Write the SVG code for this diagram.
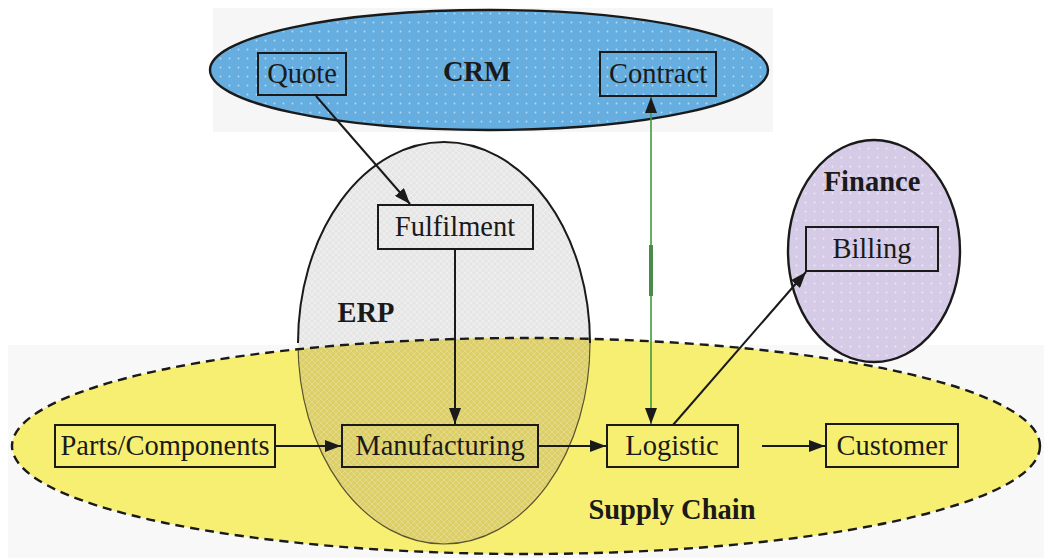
<svg xmlns="http://www.w3.org/2000/svg" width="1044" height="558" viewBox="0 0 1044 558">
  <style>
    .box { fill: none; stroke: #1a1a1a; stroke-width: 2; }
    .lbl { font-family: "Liberation Serif", "Times New Roman", serif; font-size: 28.5px; fill: #1a1a1a; text-anchor: middle; }
    .ttl { font-family: "Liberation Serif", "Times New Roman", serif; font-size: 28.5px; font-weight: bold; fill: #1a1a1a; text-anchor: middle; }
    .edge { fill: none; stroke: #1a1a1a; stroke-width: 2; }
    .edge-green { fill: none; stroke: #3f9a3f; stroke-width: 1.6; }
  </style>
  <defs>
    <marker id="arrow" viewBox="0 0 16 12" refX="16" refY="6" markerWidth="16" markerHeight="12" markerUnits="userSpaceOnUse" orient="auto-start-reverse">
      <path d="M0,0 L16,6 L0,12 Z" fill="#1a1a1a"/>
    </marker>
    <pattern id="dots" width="9" height="9" patternUnits="userSpaceOnUse">
      <circle cx="4.5" cy="4.5" r="0.9" fill="#ffffff" fill-opacity="0.55"/>
    </pattern>
    <pattern id="hatch" width="6" height="6" patternUnits="userSpaceOnUse">
      <path d="M0,6 L6,0 M0,0 L6,6" stroke="#ffffff" stroke-width="0.8" stroke-opacity="0.45"/>
    </pattern>
    <clipPath id="supplyClip">
      <ellipse cx="526" cy="446" rx="514" ry="108"/>
    </clipPath>
  </defs>

  <rect width="1044" height="558" fill="#ffffff"/>
  <!-- faint paper tone behind the upper and lower areas -->
  <rect x="213" y="8" width="560" height="124" fill="#f6f6f6"/>
  <rect x="8" y="345" width="1036" height="213" fill="#f8f8f8"/>

  <!-- ERP domain -->
  <g id="erp">
    <ellipse cx="444" cy="343" rx="146" ry="201" fill="#e6e6e6"/>
    <ellipse cx="444" cy="343" rx="146" ry="201" fill="url(#hatch)"/>
  </g>

  <!-- Supply Chain domain -->
  <g id="supply-chain">
    <ellipse cx="526" cy="446" rx="514" ry="108" fill="#f7ef72"/>
    <g clip-path="url(#supplyClip)">
      <ellipse cx="444" cy="343" rx="146" ry="201" fill="#dccf68"/>
      <ellipse cx="444" cy="343" rx="146" ry="201" fill="url(#hatch)" opacity="0.6"/>
      <ellipse cx="444" cy="343" rx="146" ry="201" fill="none" stroke="#5a5430" stroke-width="1.2"/>
    </g>
    <ellipse cx="526" cy="446" rx="514" ry="108" fill="none" stroke="#1a1a1a" stroke-width="2.4" stroke-dasharray="9 6"/>
    <text class="ttl" x="672" y="519">Supply Chain</text>
  </g>

  <!-- ERP outline above the supply chain band -->
  <g id="erp-outline">
    <path d="M298,343 A146,201 0 0 1 590,343" fill="none" stroke="#1a1a1a" stroke-width="2"/>
    <text class="ttl" x="366" y="322">ERP</text>
  </g>

  <!-- CRM domain -->
  <g id="crm">
    <ellipse cx="489" cy="70" rx="279" ry="60" fill="#66aee0" stroke="#1a1a1a" stroke-width="2.4"/>
    <ellipse cx="489" cy="70" rx="277" ry="58" fill="url(#dots)"/>
    <text class="ttl" x="477" y="81">CRM</text>
  </g>

  <!-- Finance domain -->
  <g id="finance">
    <ellipse cx="874" cy="251" rx="86" ry="111" fill="#d6cbe6" stroke="#1a1a1a" stroke-width="2.4"/>
    <ellipse cx="874" cy="251" rx="84" ry="109" fill="url(#dots)"/>
    <text class="ttl" x="872" y="191">Finance</text>
  </g>

  <!-- Process nodes -->
  <g id="quote">
    <rect class="box" x="258" y="53" width="88" height="42"/>
    <text class="lbl" x="302" y="83">Quote</text>
  </g>
  <g id="contract">
    <rect class="box" x="600" y="52" width="116" height="44"/>
    <text class="lbl" x="658" y="83">Contract</text>
  </g>
  <g id="fulfilment">
    <rect class="box" x="378" y="205" width="155" height="44"/>
    <text class="lbl" x="455" y="236">Fulfilment</text>
  </g>
  <g id="billing">
    <rect class="box" x="806" y="227" width="132" height="44"/>
    <text class="lbl" x="872" y="258">Billing</text>
  </g>
  <g id="parts">
    <rect class="box" x="55" y="425" width="220" height="42"/>
    <text class="lbl" x="165" y="455">Parts/Components</text>
  </g>
  <g id="manufacturing">
    <rect class="box" x="342" y="425" width="196" height="42"/>
    <text class="lbl" x="440" y="455">Manufacturing</text>
  </g>
  <g id="logistic">
    <rect class="box" x="607" y="425" width="131" height="42"/>
    <text class="lbl" x="672" y="455">Logistic</text>
  </g>
  <g id="customer">
    <rect class="box" x="826" y="424" width="132" height="43"/>
    <text class="lbl" x="892" y="455">Customer</text>
  </g>

  <!-- Connectors -->
  <g id="connectors">
    <line class="edge" x1="316" y1="96" x2="410" y2="204" marker-end="url(#arrow)"/>
    <line class="edge" x1="455" y1="249" x2="455" y2="424" marker-end="url(#arrow)"/>
    <line class="edge" x1="275" y1="446" x2="341" y2="446" marker-end="url(#arrow)"/>
    <line class="edge" x1="538" y1="446" x2="606" y2="446" marker-end="url(#arrow)"/>
    <line class="edge" x1="762" y1="446" x2="825" y2="446" marker-end="url(#arrow)"/>
    <line class="edge" x1="673" y1="425" x2="806" y2="272" marker-end="url(#arrow)"/>
    <line class="edge-green" x1="651" y1="97" x2="651" y2="424" marker-start="url(#arrow)" marker-end="url(#arrow)"/>
    <line x1="651" y1="245" x2="651" y2="296" stroke="#4a8a4a" stroke-width="4"/>
  </g>
</svg>
